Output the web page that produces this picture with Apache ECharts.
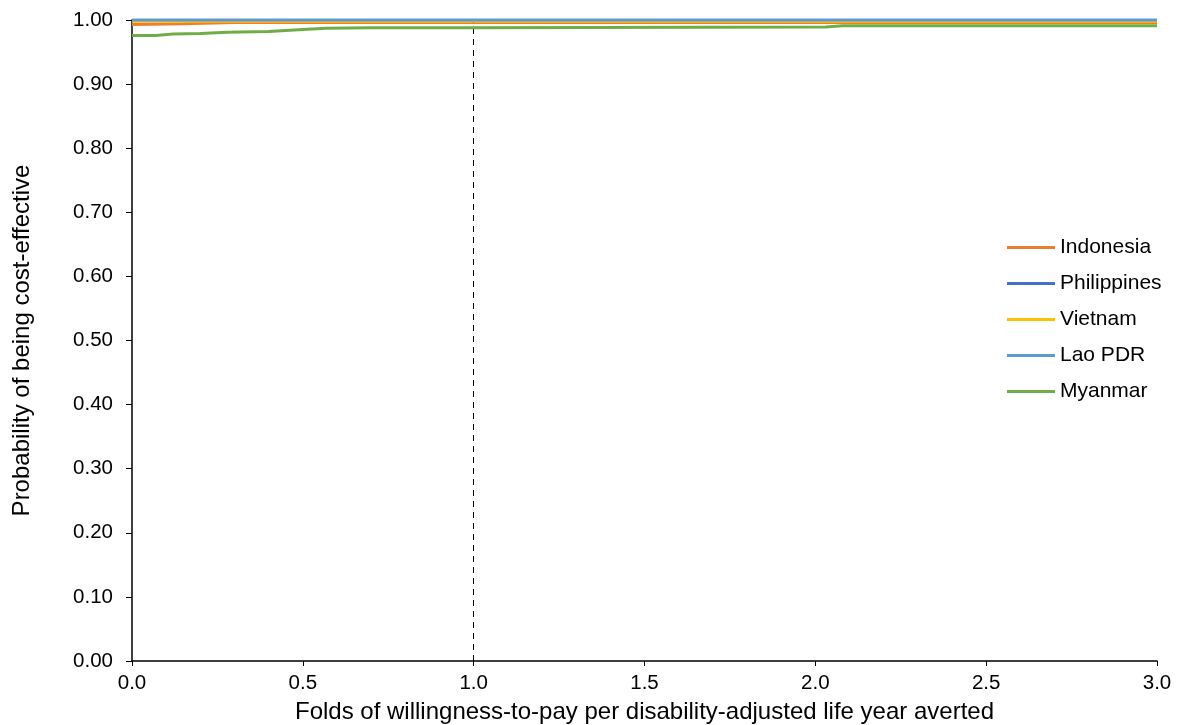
<!DOCTYPE html>
<html><head><meta charset="utf-8">
<script src="https://cdn.jsdelivr.net/npm/echarts@6/dist/echarts.min.js"></script>
<style>html,body{margin:0;padding:0;background:#fff}#c{width:1188px;height:725px}</style>
</head><body><div id="c"></div>
<script>
const seriesNames = ['Indonesia','Philippines','Vietnam','Lao PDR','Myanmar'];
const colors = ['#ED7D31','#4472C4','#FFC000','#5B9BD5','#70AD47'];
const indonesiaX = [0, 0.15, 0.3, 3.0];
const indonesiaY = [0.993, 0.994, 0.996, 0.996];
const philippinesX = [0, 3.0];
const philippinesY = [1.0, 1.0];
const vietnamX = [0, 3.0];
const vietnamY = [0.998, 0.998];
const laoX = [0, 3.0];
const laoY = [1.0, 1.0];
const myanmarX = [0, 0.07, 0.12, 0.2, 0.28, 0.4, 0.5, 0.57, 0.7, 1.0, 2.03, 2.08, 3.0];
const myanmarY = [0.976, 0.976, 0.978, 0.979, 0.981, 0.982, 0.985, 0.987, 0.988, 0.988, 0.989, 0.991, 0.991];
const xTicks = [0, 0.5, 1.0, 1.5, 2.0, 2.5, 3.0];
const yTicks = [0,0.1,0.2,0.3,0.4,0.5,0.6,0.7,0.8,0.9,1.0];
const refLineX = 1.0;

const xs = [indonesiaX, philippinesX, vietnamX, laoX, myanmarX];
const ys = [indonesiaY, philippinesY, vietnamY, laoY, myanmarY];
const font = 'Liberation Sans, Arial, sans-serif';

const series = seriesNames.map((n,i)=>({
  name: n, type: 'line', showSymbol: false, symbol: 'none',
  data: xs[i].map((x,j)=>[x, ys[i][j]]),
  lineStyle: {color: colors[i], width: 3},
  itemStyle: {color: colors[i]},
  z: 3 + i
}));
series.push({
  type: 'line', data: [], silent: true,
  markLine: {symbol: 'none', silent: true, label: {show: false},
    lineStyle: {color: '#000', type: [6,5], width: 1},
    data: [{xAxis: refLineX}]}
});

const chart = echarts.init(document.getElementById('c'), null, {renderer: 'canvas'});
chart.setOption({
  animation: false,
  grid: {left: 132, right: 31, top: 20, bottom: 64, containLabel: false, outerBoundsMode: 'none'},
  legend: {
    data: seriesNames, orient: 'vertical', left: 1002, top: 232,
    icon: 'rect', itemWidth: 48, itemHeight: 3, itemGap: 15,
    textStyle: {fontFamily: font, fontSize: 21, color: '#000', padding: [0,0,0,0]}
  },
  xAxis: {
    type: 'value', min: 0, max: 3, interval: 0.5,
    name: 'Folds of willingness-to-pay per disability-adjusted life year averted',
    nameLocation: 'middle', nameGap: 39,
    nameTextStyle: {fontFamily: font, fontSize: 24, color: '#000'},
    axisLine: {show: true, lineStyle: {color: '#000', width: 1.5}},
    axisTick: {show: true, inside: false, length: 5, lineStyle: {color: '#000'}},
    axisLabel: {fontFamily: font, fontSize: 20.5, color: '#000', margin: 12, formatter: v => v.toFixed(1)},
    splitLine: {show: false}
  },
  yAxis: {
    type: 'value', min: 0, max: 1, interval: 0.1,
    name: 'Probability of being cost-effective',
    nameLocation: 'middle', nameGap: 98,
    nameTextStyle: {fontFamily: font, fontSize: 24, color: '#000'},
    axisLine: {show: true, lineStyle: {color: '#000', width: 1.5}},
    axisTick: {show: true, inside: false, length: 6, lineStyle: {color: '#000'}},
    axisLabel: {fontFamily: font, fontSize: 20.5, color: '#000', margin: 19, formatter: v => v.toFixed(2)},
    splitLine: {show: false}
  },
  series: series
});
</script></body></html>
